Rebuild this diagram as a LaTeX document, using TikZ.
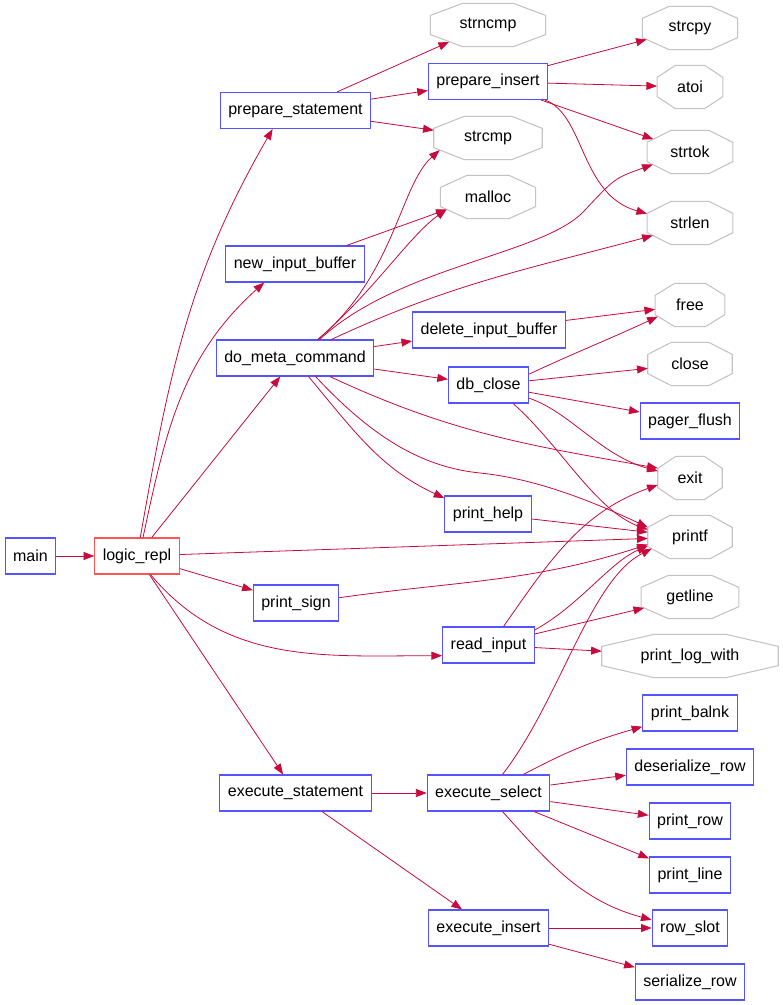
\documentclass[tikz,border=0pt]{standalone}
\usepackage{fontspec}
\setmainfont{Liberation Sans}
\usetikzlibrary{arrows.meta, positioning}

\definecolor{fnblue}{RGB}{85,85,255}
\definecolor{rootred}{RGB}{255,85,85}
\definecolor{extgray}{RGB}{195,195,195}
\definecolor{callred}{RGB}{200,10,60}

\tikzset{
  fn/.style={draw=fnblue, line width=0.8pt, fill=white, minimum height=27pt, inner xsep=6pt},
  root/.style={fn, draw=rootred},
  ext/.style={minimum width=#1, minimum height=32pt, inner sep=0pt},
  octline/.style={draw=extgray, line width=0.8pt},
  calls/.style={draw=callred, line width=0.6pt, -{Triangle[length=8pt,width=6pt]}}
}

\begin{document}
\begin{tikzpicture}[x=0.75pt, y=0.75pt, font=\fontsize{12pt}{14pt}\selectfont]
    \useasboundingbox (0,0) rectangle (782,-1005);

    % Functions of the project
    \node[fn] (main) at (30.5,-556) {main};
    \node[root] (repl) at (137,-556) {logic\_repl};
    \node[fn] (pstmt) at (295.5,-110.5) {prepare\_statement};
    \node[fn] (nib) at (295,-264) {new\_input\_buffer};
    \node[fn] (dmc) at (295,-358) {do\_meta\_command};
    \node[fn] (psign) at (296,-603) {print\_sign};
    \node[fn] (exst) at (295.5,-793) {execute\_statement};
    \node[fn] (pins) at (488,-81.5) {prepare\_insert};
    \node[fn] (dib) at (489,-330) {delete\_input\_buffer};
    \node[fn] (dbc) at (488.5,-385) {db\_close};
    \node[fn] (phelp) at (488,-514) {print\_help};
    \node[fn] (rin) at (488.5,-645) {read\_input};
    \node[fn] (exsel) at (488.5,-793) {execute\_select};
    \node[fn] (exins) at (488.5,-928) {execute\_insert};
    \node[fn] (pflush) at (690,-421) {pager\_flush};
    \node[fn] (pbalnk) at (690,-713) {print\_balnk};
    \node[fn] (deser) at (690,-767) {deserialize\_row};
    \node[fn] (prow) at (690,-821) {print\_row};
    \node[fn] (pline) at (690,-875) {print\_line};
    \node[fn] (rslot) at (690,-928) {row\_slot};
    \node[fn] (ser) at (690,-982) {serialize\_row};

    % Library functions (octagons)
    \node[ext=86pt] (strncmp) at (488,-25) {strncmp};
    \node[ext=81pt] (strcmp) at (488,-138) {strcmp};
    \node[ext=71pt] (malloc) at (488,-197) {malloc};
    \node[ext=71pt] (strcpy) at (690,-28) {strcpy};
    \node[ext=49pt] (atoi) at (690,-87) {atoi};
    \node[ext=64pt] (strtok) at (690,-152) {strtok};
    \node[ext=64pt] (strlen) at (690,-223) {strlen};
    \node[ext=52pt] (free) at (690,-305) {free};
    \node[ext=63pt] (close) at (690,-364) {close};
    \node[ext=48pt] (exit) at (690,-478) {exit};
    \node[ext=63pt] (printf) at (690,-537) {printf};
    \node[ext=73pt] (getline) at (690,-597) {getline};
    \node[ext=132pt] (plog) at (690,-656) {print\_log\_with};

    \foreach \n/\c in {strncmp/24pt, strcmp/22.7pt, malloc/19.9pt, strcpy/19.9pt, atoi/13.7pt,
                       strtok/17.9pt, strlen/17.9pt, free/14.6pt, close/17.6pt, exit/13.4pt,
                       printf/16.5pt, getline/20.4pt, plog/39pt}
        \draw[octline] ([xshift=\c]\n.north west) -- ([xshift=-\c]\n.north east)
            -- ([yshift=-9pt]\n.north east) -- ([yshift=9pt]\n.south east)
            -- ([xshift=-\c]\n.south east) -- ([xshift=\c]\n.south west)
            -- ([yshift=9pt]\n.south west) -- ([yshift=-9pt]\n.north west) -- cycle;

    % logic_repl
    \draw[calls] (main) -- (repl);
    \draw[calls] (repl.80) to[out=80,in=240] (pstmt.219);
    \draw[calls] (repl.72) to[out=78,in=222] (nib.211);
    \draw[calls] (repl) -- (dmc);
    \draw[calls] (repl) -- (printf);
    \draw[calls] (repl) -- (psign);
    \draw[calls] (repl.-54) to[out=-50,in=180] (rin.193);
    \draw[calls] (repl) -- (exst);

    % prepare_statement and prepare_insert
    \draw[calls] (pstmt) -- ([shift={(14pt,3.5pt)}]strncmp.south west);
    \draw[calls] (pstmt) -- (pins);
    \draw[calls] (pstmt) -- (strcmp);
    \draw[calls] (pins) -- ([shift={(3.2pt,7.6pt)}]strcpy.south west);
    \draw[calls] (pins) -- (atoi);
    \draw[calls] (pins) -- ([shift={(4.7pt,-6.6pt)}]strtok.north west);
    \draw[calls] (pins.-18) .. controls (585,-115) and (580,-195) .. ([yshift=7pt]strlen.west);
    \draw[calls] (nib) -- ([shift={(4.7pt,6.8pt)}]malloc.south west);

    % do_meta_command
    \draw[calls] (dmc.39) .. controls (395,-275) and (400,-185) .. ([shift={(4.5pt,7.1pt)}]strcmp.south west);
    \draw[calls] (dmc.39) .. controls (375,-290) and (410,-235) .. ([shift={(4.7pt,6.8pt)}]malloc.south west);
    \draw[calls] (dmc.37) .. controls (400,-265) and (545,-255) .. (585,-210)
                 .. controls (615,-178) .. ([shift={(4.3pt,6.8pt)}]strtok.south west);
    \draw[calls] (dmc.27) to[out=25,in=195] ([shift={(4.3pt,6.8pt)}]strlen.south west);
    \draw[calls] (dmc) -- (dib);
    \draw[calls] (dmc) -- (dbc);
    \draw[calls] (dmc.-28) to[out=-25,in=170] (exit.163);
    \draw[calls] (dmc.-42) .. controls (370,-435) and (420,-467) .. (480,-473)
                 .. controls (540,-479) and (600,-505) .. (printf.167);
    \draw[calls] (dmc.-54) to[out=-50,in=155] (phelp.160);

    % delete_input_buffer and db_close
    \draw[calls] (dib) -- (free);
    \draw[calls] (dbc.15) to[out=25,in=205] ([shift={(2pt,7.5pt)}]free.south west);
    \draw[calls] (dbc) -- (close);
    \draw[calls] (dbc) -- (pflush);
    \draw[calls] (dbc.-18) .. controls (570,-412) and (600,-455) .. (exit.168);
    \draw[calls] (dbc.-37) .. controls (560,-445) and (595,-510) .. (printf.170);

    % print_help, print_sign, read_input
    \draw[calls] (phelp) -- (printf);
    \draw[calls] (psign.7) to[out=8,in=198] (printf.190);
    \draw[calls] (rin.51) to[out=55,in=200] (exit.192);
    \draw[calls] (rin.18) .. controls (580,-605) and (610,-562) .. (printf.192);
    \draw[calls] (rin) -- ([shift={(2.3pt,8pt)}]getline.south west);
    \draw[calls] (rin) -- (plog);

    % execute_statement
    \draw[calls] (exst) -- (exsel);
    \draw[calls] (exst) -- (exins);
    \draw[calls] (exsel.53) .. controls (560,-700) and (590,-580) .. ([shift={(3pt,7.5pt)}]printf.south west);
    \draw[calls] (exsel.28) to[out=28,in=196] (pbalnk.196);
    \draw[calls] (exsel) -- (deser);
    \draw[calls] (exsel) -- (prow);
    \draw[calls] (exsel) -- (pline);
    \draw[calls] (exsel.-53) to[out=-48,in=165] (rslot.168);
    \draw[calls] (exins) -- (rslot);
    \draw[calls] (exins) -- (ser);
\end{tikzpicture}
\end{document}
